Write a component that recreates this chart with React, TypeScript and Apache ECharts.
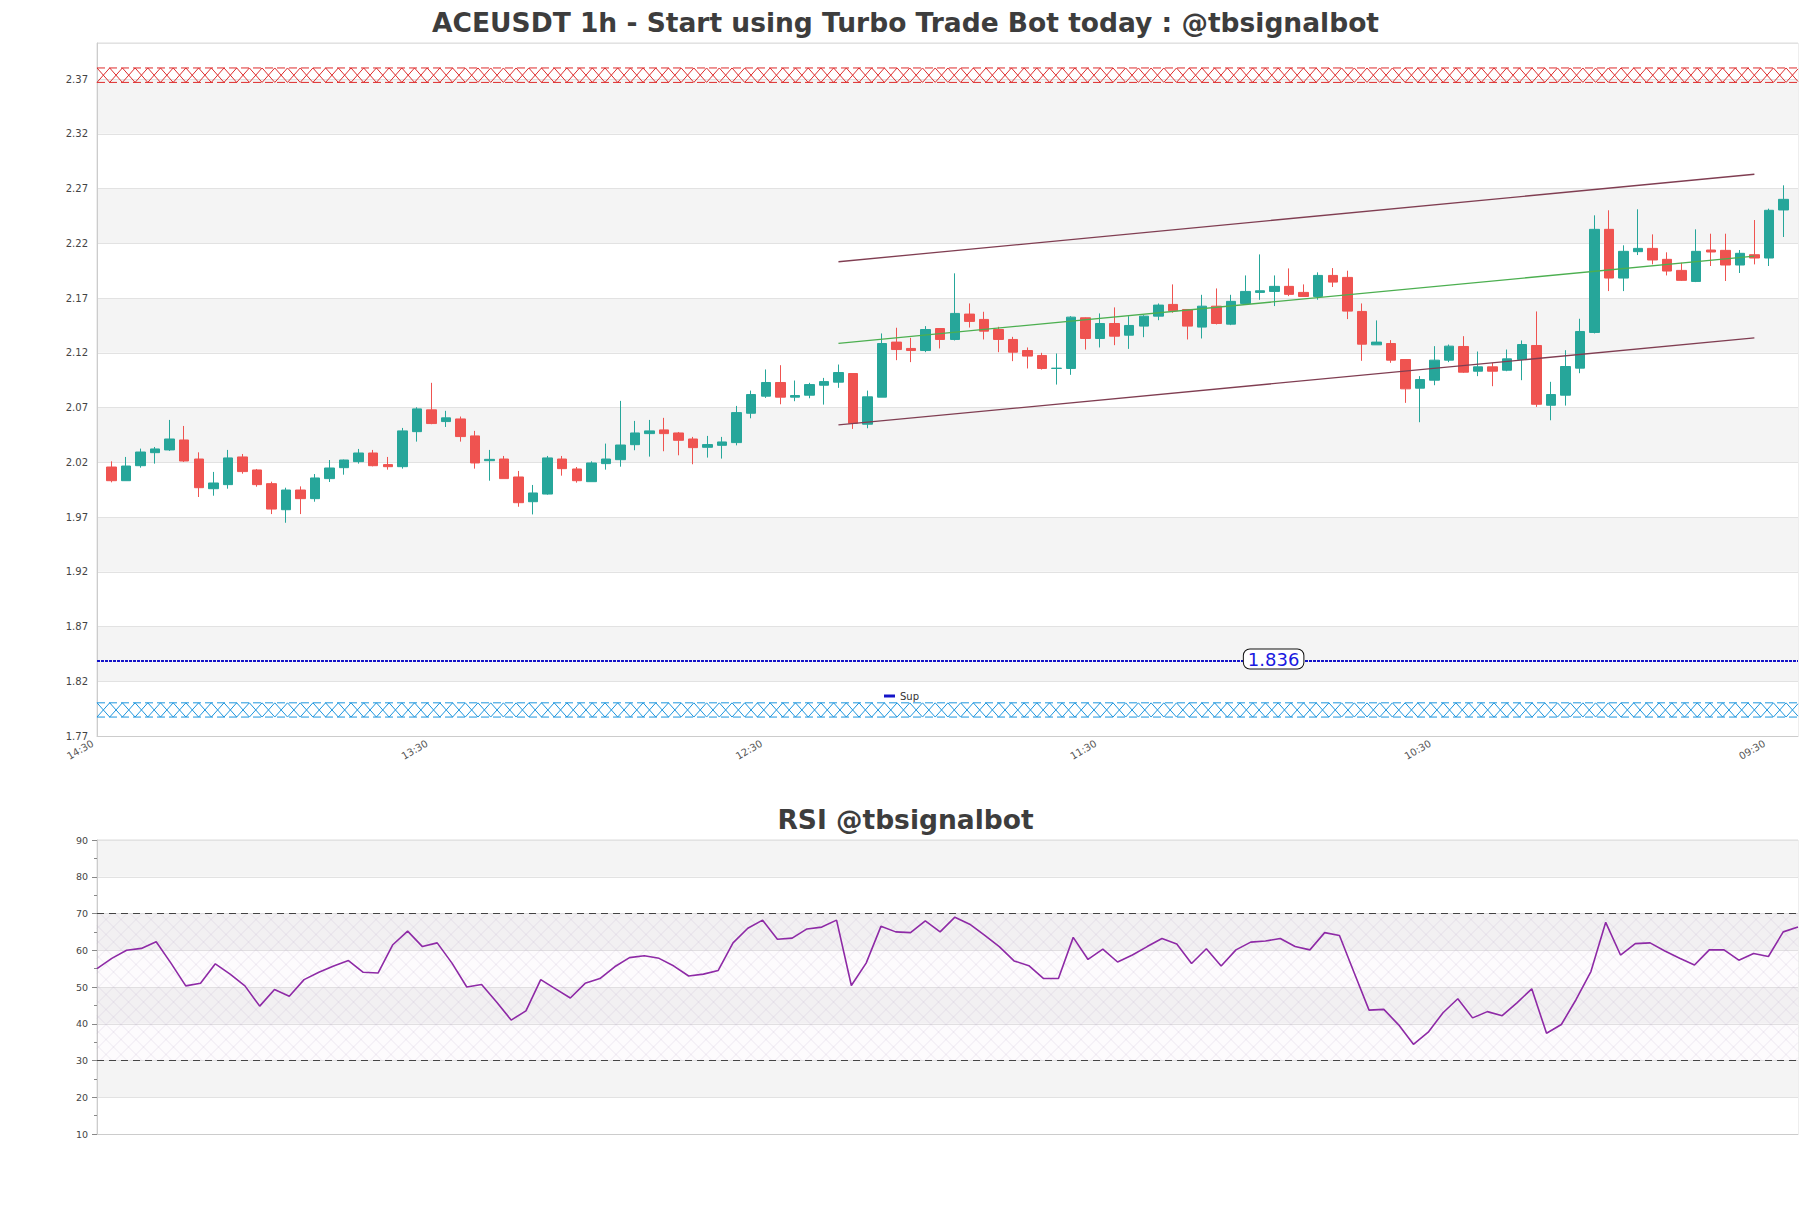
import React, { useEffect, useRef } from "react";
import * as echarts from "echarts";

const TITLE = "ACEUSDT 1h - Start using Turbo Trade Bot today : @tbsignalbot";
const RSI_TITLE = "RSI @tbsignalbot";
const TIME_LABELS = ["14:30", "13:30", "12:30", "11:30", "10:30", "09:30"];
const LABEL_STEP = 23;
const SLOT_COUNT = 118; // candles occupy slots 1..116

const OPEN = [
  2.0157, 2.0032, 2.0169, 2.0288, 2.0313, 2.0404, 2.023, 1.9959, 1.9996, 2.0249,
  2.013, 2.0005, 1.9767, 1.9947, 1.9868, 2.0051, 2.0151, 2.0206, 2.0285, 2.0179,
  2.016, 2.048, 2.0679, 2.0572, 2.0596, 2.0441, 2.0215, 2.023, 2.0066, 1.984,
  1.991, 2.023, 2.0139, 2.0023, 2.0188, 2.0224, 2.0361, 2.0462, 2.0496, 2.0468,
  2.0413, 2.0337, 2.0355, 2.038, 2.0648, 2.0804, 2.0929, 2.0795, 2.0813, 2.0904,
  2.0932, 2.1011, 2.0548, 2.0795, 2.1298, 2.124, 2.1221, 2.1422, 2.1322, 2.1554,
  2.1505, 2.1413, 2.1322, 2.1221, 2.1176, 2.1057, 2.1057, 2.152, 2.1331, 2.1468,
  2.1361, 2.1444, 2.1535, 2.1642, 2.1596, 2.1435, 2.1626, 2.1462, 2.1651, 2.1752,
  2.1761, 2.1807, 2.1752, 2.1715, 2.1907, 2.1889, 2.1578, 2.1273, 2.1285, 2.1139,
  2.0877, 2.095, 2.1133, 2.1258, 2.1032, 2.1072, 2.1041, 2.1139, 2.1267, 2.0721,
  2.0813, 2.106, 2.1386, 2.2328, 2.1883, 2.2124, 2.2154, 2.2054, 2.1953, 2.1852,
  2.2139, 2.2136, 2.2002, 2.2096, 2.2066, 2.2505,
];
const CLOSE = [
  2.0032, 2.0166, 2.0294, 2.0322, 2.0413, 2.0212, 1.9968, 2.0011, 2.024, 2.0115,
  1.9996, 1.9773, 1.9947, 1.9868, 2.0057, 2.0148, 2.0221, 2.0285, 2.0169, 2.016,
  2.0487, 2.0688, 2.0554, 2.0606, 2.0435, 2.0194, 2.0227, 2.0051, 1.9831, 1.992,
  2.024, 2.0142, 2.0032, 2.0194, 2.023, 2.0358, 2.0468, 2.0487, 2.0462, 2.0401,
  2.0334, 2.0362, 2.0386, 2.0654, 2.0819, 2.0929, 2.0795, 2.081, 2.091, 2.0937,
  2.102, 2.0557, 2.0798, 2.1285, 2.123, 2.1221, 2.1413, 2.1322, 2.156, 2.1487,
  2.1398, 2.1322, 2.1206, 2.117, 2.1057, 2.106, 2.1526, 2.1331, 2.1468, 2.1352,
  2.145, 2.1535, 2.1636, 2.1584, 2.1444, 2.1626, 2.1468, 2.167, 2.1761, 2.1767,
  2.1807, 2.1734, 2.1715, 2.1907, 2.1846, 2.1581, 2.1279, 2.1298, 2.1133, 2.0871,
  2.0956, 2.1133, 2.1261, 2.1023, 2.1072, 2.1032, 2.1145, 2.1276, 2.073, 2.0819,
  2.1075, 2.1395, 2.2328, 2.1883, 2.2127, 2.2154, 2.2048, 2.1947, 2.1862, 2.2127,
  2.2121, 2.2002, 2.2109, 2.2066, 2.2502, 2.2602,
];
const LOW = [
  2.0017, 2.0032, 2.0151, 2.0188, 2.0304, 2.0203, 1.9883, 1.9895, 1.9959, 2.0096,
  1.9977, 1.9727, 1.9648, 1.9727, 1.984, 2.002, 2.0087, 2.0188, 2.0163, 2.0133,
  2.0142, 2.0389, 2.0548, 2.0523, 2.0389, 2.0142, 2.0032, 2.0051, 1.9794, 1.9724,
  1.9904, 2.0078, 2.0014, 2.0023, 2.0133, 2.016, 2.031, 2.0252, 2.0301, 2.0264,
  2.0182, 2.0243, 2.0234, 2.0355, 2.0602, 2.0788, 2.073, 2.0758, 2.0785, 2.0727,
  2.088, 2.0505, 2.0511, 2.0795, 2.1133, 2.1115, 2.1206, 2.124, 2.1313, 2.1431,
  2.1322, 2.1206, 2.1124, 2.1057, 2.1047, 2.091, 2.0999, 2.123, 2.1249, 2.127,
  2.1236, 2.1343, 2.1498, 2.1566, 2.1322, 2.1331, 2.1459, 2.1453, 2.1642, 2.1684,
  2.1627, 2.1718, 2.1715, 2.1685, 2.1801, 2.1508, 2.1127, 2.1273, 2.1109, 2.0743,
  2.0566, 2.0904, 2.1115, 2.1017, 2.0987, 2.0895, 2.1032, 2.095, 2.0706, 2.0584,
  2.0718, 2.1014, 2.1377, 2.1764, 2.1764, 2.2093, 2.2008, 2.1907, 2.1856, 2.1846,
  2.1993, 2.1856, 2.1929, 2.2008, 2.1993, 2.2258,
];
const HIGH = [
  2.0209, 2.0249, 2.0325, 2.034, 2.0587, 2.0532, 2.0291, 2.0112, 2.0313, 2.0276,
  2.0139, 2.0023, 1.9968, 1.998, 2.0093, 2.0221, 2.0225, 2.0322, 2.0313, 2.0249,
  2.0514, 2.0703, 2.0926, 2.067, 2.0618, 2.0487, 2.0313, 2.0258, 2.0121, 1.9993,
  2.0258, 2.0258, 2.0157, 2.0209, 2.0371, 2.0761, 2.0578, 2.0587, 2.0606, 2.0477,
  2.0432, 2.0441, 2.0432, 2.0715, 2.0855, 2.1048, 2.1087, 2.0947, 2.0926, 2.0971,
  2.1093, 2.1011, 2.0855, 2.1377, 2.1429, 2.1337, 2.1444, 2.1425, 2.1926, 2.1651,
  2.1575, 2.1438, 2.1346, 2.1249, 2.12, 2.1194, 2.1535, 2.1523, 2.156, 2.1615,
  2.1535, 2.1544, 2.1651, 2.1825, 2.1599, 2.173, 2.1788, 2.173, 2.1907, 2.2099,
  2.1907, 2.1971, 2.1825, 2.1935, 2.1974, 2.195, 2.1651, 2.1496, 2.1316, 2.1142,
  2.0987, 2.1261, 2.1276, 2.1352, 2.1212, 2.1109, 2.123, 2.1313, 2.1578, 2.0935,
  2.1224, 2.1511, 2.2456, 2.2502, 2.2182, 2.2511, 2.2282, 2.2118, 2.2023, 2.2328,
  2.2288, 2.2288, 2.2139, 2.2413, 2.2517, 2.273,
];

const RSI = [
  55, 57.8, 60, 60.5, 62.3, 56.5, 50.3, 51, 56.3, 53.5,
  50.3, 44.8, 49.3, 47.5, 52, 54, 55.7, 57.2, 54, 53.8,
  61.5, 65.2, 61, 62, 56.5, 50, 50.7, 46, 41, 43.5,
  52, 49.5, 47, 51, 52.3, 55.5, 58, 58.5, 57.8, 55.7,
  53, 53.5, 54.5, 62, 66, 68.2, 63, 63.3, 65.8, 66.3,
  68.2, 50.4, 56.5, 66.5, 65,
  64.8, 68.0, 65.0, 69.0, 67.1, 64.1, 61.0, 57.1, 55.8, 52.3,
  52.3, 63.5, 57.5, 60.3, 56.8, 58.7, 61.0, 63.2, 61.7, 56.4,
  60.4, 55.7, 60.1, 62.2, 62.5, 63.2, 61.0, 60.1, 64.8, 64.0,
  53.8, 43.7, 43.9, 39.7, 34.4, 37.7, 43.0, 46.8, 41.6, 43.3,
  42.2, 45.7, 49.5, 37.4, 39.8, 46.6, 54.2, 67.6, 58.7, 61.8,
  62.0, 59.8, 57.8, 56.0, 60.1, 60.1, 57.3, 59.1, 58.3, 65.0,
  66.3,
];

const Y_MIN = 1.77;
const Y_MAX = 2.403;
const Y_STEP = 0.05;
const RSI_MIN = 10;
const RSI_MAX = 90;
const RSI_STEP = 10;
const RSI_BOUNDS = [30, 70];

const SUPPORT_NAME = "Sup";
const SUPPORT_LEVEL = 1.8385;
const SUPPORT_LABEL = "1.836";
const SUPPORT_LABEL_SLOT = 81;
const RESIST_ZONE = [2.367, 2.3802];
const SUPPORT_ZONE = [1.7873, 1.8003];

const CHANNEL_X = [51, 114];
const CHANNEL_UPPER = [2.2032, 2.2831];
const CHANNEL_MIDDLE = [2.1287, 2.2084];
const CHANNEL_LOWER = [2.0541, 2.1337];

const FONT = "DejaVu Sans";

function hatchBand(color: string) {
  return (params: any, api: any) => {
    const lo = api.value(1);
    const hi = api.value(2);
    const a = api.coord([0, hi]);
    const b = api.coord([SLOT_COUNT - 1, lo]);
    const x0 = a[0], y0 = a[1], x1 = b[0], y1 = b[1];
    const step = 12.7;
    const zigA: number[][] = [];
    const zigB: number[][] = [];
    const n = Math.floor((x1 - x0) / step);
    for (let k = 0; k <= n; k++) {
      const x = x0 + k * step;
      zigA.push([x, k % 2 === 0 ? y0 : y1]);
      zigB.push([x, k % 2 === 0 ? y1 : y0]);
    }
    const frac = (x1 - x0) / step - n;
    if (frac > 0.001) {
      const ya = n % 2 === 0 ? y0 : y1;
      const yb = n % 2 === 0 ? y1 : y0;
      zigA.push([x1, ya + (yb - ya) * frac]);
      zigB.push([x1, yb + (ya - yb) * frac]);
    }
    const stroke = { stroke: color, lineWidth: 1, fill: null };
    return {
      type: "group",
      silent: true,
      children: [
        { type: "polyline", shape: { points: zigA }, style: stroke },
        { type: "polyline", shape: { points: zigB }, style: stroke },
        { type: "line", shape: { x1: x0, y1: y0, x2: x1, y2: y0 }, style: { ...stroke, lineDash: [8, 4] } },
        { type: "line", shape: { x1: x0, y1: y1, x2: x1, y2: y1 }, style: { ...stroke, lineDash: [8, 4] } },
      ],
    };
  };
}

function rsiHatch(params: any, api: any) {
  const lo = api.value(1);
  const hi = api.value(2);
  const a = api.coord([0, hi]);
  const b = api.coord([RSI.length - 1, lo]);
  const x0 = a[0], y0 = a[1], x1 = b[0], y1 = b[1];
  const s = 15;
  const children: any[] = [
    { type: "rect", shape: { x: x0, y: y0, width: x1 - x0, height: y1 - y0 }, style: { fill: "rgba(210,180,225,0.05)" } },
  ];
  const st = { stroke: "rgba(180,165,195,0.38)", lineWidth: 0.6, fill: null };
  for (let c = x0 - y1; c <= x1 - y0; c += s) {
    const ya = Math.max(y0, x0 - c);
    const yb = Math.min(y1, x1 - c);
    if (yb > ya) children.push({ type: "line", shape: { x1: ya + c, y1: ya, x2: yb + c, y2: yb }, style: st });
  }
  for (let c = x0 + y0; c <= x1 + y1; c += s) {
    const ya = Math.max(y0, c - x1);
    const yb = Math.min(y1, c - x0);
    if (yb > ya) children.push({ type: "line", shape: { x1: c - ya, y1: ya, x2: c - yb, y2: yb }, style: st });
  }
  return { type: "group", silent: true, children };
}

export default function App() {
  const ref = useRef<HTMLDivElement>(null);

  useEffect(() => {
    if (!ref.current) return;
    const chart = echarts.init(ref.current, null, { renderer: "svg" });

    const slots = Array.from({ length: SLOT_COUNT }, (_, i) => String(i));
    const rsiSlots = RSI.map((_, i) => String(i));
    const candles = OPEN.map((o, i) => [i + 1, o, CLOSE[i], LOW[i], HIGH[i]]);
    const channel = (vals: number[]) => CHANNEL_X.map((x, i) => [x, vals[i]]);
    const titleStyle = { fontFamily: FONT, fontSize: 26.5, fontWeight: "bold", color: "#3d3d3d" };

    const option: any = {
      animation: false,
      backgroundColor: "#ffffff",
      title: [
        { text: TITLE, left: "center", top: 4, textStyle: titleStyle },
        { text: RSI_TITLE, left: "center", top: 801, textStyle: titleStyle },
      ],
      legend: {
        data: [SUPPORT_NAME],
        left: 879,
        top: 686,
        icon: "rect",
        itemWidth: 11,
        itemHeight: 3,
        itemGap: 6,
        textStyle: { fontFamily: FONT, fontSize: 10, color: "#333" },
      },
      grid: [
        { left: 97, top: 43, width: 1701, height: 693, show: true, borderColor: "#dddddd", borderWidth: 1, backgroundColor: "transparent" },
        { left: 97, top: 840, width: 1701, height: 294, show: true, borderColor: "#dddddd", borderWidth: 1, backgroundColor: "transparent" },
      ],
      xAxis: [
        {
          gridIndex: 0,
          type: "category",
          data: slots,
          boundaryGap: false,
          axisLine: { show: true, lineStyle: { color: "#cccccc" } },
          axisTick: { show: false },
          splitLine: { show: false },
          axisLabel: {
            interval: LABEL_STEP - 1,
            rotate: 30,
            margin: 4,
            padding: [0, 5, 0, 0],
            color: "#555",
            fontFamily: FONT,
            fontSize: 10,
            formatter: (v: string, i: number) => (i % LABEL_STEP === 0 ? TIME_LABELS[i / LABEL_STEP] || "" : ""),
          },
        },
        {
          gridIndex: 1,
          type: "category",
          data: rsiSlots,
          boundaryGap: false,
          axisLine: { show: true, lineStyle: { color: "#cccccc" } },
          axisTick: { show: false },
          axisLabel: { show: false },
          splitLine: { show: false },
        },
      ],
      yAxis: [
        {
          gridIndex: 0,
          type: "value",
          min: Y_MIN,
          max: Y_MAX,
          interval: Y_STEP,
          axisLine: { show: true, lineStyle: { color: "#cccccc" } },
          axisTick: { show: false },
          axisLabel: {
            color: "#444",
            fontFamily: FONT,
            fontSize: 10,
            margin: 9,
            formatter: (v: number) => (v > Y_MAX - 0.01 ? "" : v.toFixed(2)),
          },
          splitLine: { show: true, lineStyle: { color: "#e2e2e2" } },
          splitArea: { show: true, areaStyle: { color: ["#ffffff", "#f4f4f4"] } },
        },
        {
          gridIndex: 1,
          type: "value",
          min: RSI_MIN,
          max: RSI_MAX,
          interval: RSI_STEP,
          axisLine: { show: true, lineStyle: { color: "#cccccc" } },
          axisTick: { show: true, length: 5, lineStyle: { color: "#888" } },
          minorTick: { show: true, splitNumber: 2, length: 3, lineStyle: { color: "#888" } },
          axisLabel: { color: "#444", fontFamily: FONT, fontSize: 9.5, margin: 9 },
          splitLine: { show: true, lineStyle: { color: "#e2e2e2" } },
          splitArea: { show: true, areaStyle: { color: ["#ffffff", "#f4f4f4"] } },
        },
      ],
      series: [
        {
          type: "custom",
          name: "resistZone",
          xAxisIndex: 0,
          yAxisIndex: 0,
          silent: true,
          z: 1,
          renderItem: hatchBand("rgb(222,45,45)"),
          encode: { x: 0, y: [1, 2] },
          data: [[0, RESIST_ZONE[0], RESIST_ZONE[1]]],
        },
        {
          type: "custom",
          name: "supportZone",
          xAxisIndex: 0,
          yAxisIndex: 0,
          silent: true,
          z: 1,
          renderItem: hatchBand("rgb(30,150,222)"),
          encode: { x: 0, y: [1, 2] },
          data: [[0, SUPPORT_ZONE[0], SUPPORT_ZONE[1]]],
        },
        {
          type: "candlestick",
          name: "price",
          xAxisIndex: 0,
          yAxisIndex: 0,
          barWidth: 10,
          encode: { x: 0, y: [1, 2, 3, 4] },
          data: candles,
          itemStyle: {
            color: "#26a69a",
            color0: "#ef5350",
            borderColor: "#26a69a",
            borderColor0: "#ef5350",
            borderWidth: 1,
          },
          z: 3,
        },
        {
          type: "line",
          name: "upper",
          xAxisIndex: 0,
          yAxisIndex: 0,
          symbol: "none",
          data: channel(CHANNEL_UPPER),
          lineStyle: { color: "rgb(128,62,82)", width: 1.3 },
          z: 4,
        },
        {
          type: "line",
          name: "middle",
          xAxisIndex: 0,
          yAxisIndex: 0,
          symbol: "none",
          data: channel(CHANNEL_MIDDLE),
          lineStyle: { color: "rgb(76,175,80)", width: 1.3 },
          z: 4,
        },
        {
          type: "line",
          name: "lower",
          xAxisIndex: 0,
          yAxisIndex: 0,
          symbol: "none",
          data: channel(CHANNEL_LOWER),
          lineStyle: { color: "rgb(128,62,82)", width: 1.3 },
          z: 4,
        },
        {
          type: "line",
          name: SUPPORT_NAME,
          xAxisIndex: 0,
          yAxisIndex: 0,
          symbol: "none",
          color: "#1414c8",
          data: [[0, SUPPORT_LEVEL], [SLOT_COUNT - 1, SUPPORT_LEVEL]],
          lineStyle: { color: "#1414c8", width: 2.2, type: [3, 1] },
          z: 4,
          markPoint: {
            z: 20,
            symbol: "circle",
            symbolSize: 1,
            itemStyle: { color: "rgba(0,0,0,0)" },
            silent: true,
            data: [
              {
                coord: [SUPPORT_LABEL_SLOT, SUPPORT_LEVEL],
                label: {
                  show: true,
                  position: "inside",
                  offset: [-1, -2],
                  formatter: SUPPORT_LABEL,
                  color: "#1a1ae0",
                  fontFamily: FONT,
                  fontSize: 18,
                  lineHeight: 18,
                  backgroundColor: "#ffffff",
                  borderColor: "#111",
                  borderWidth: 1,
                  borderRadius: 6,
                  padding: [1, 4, 0, 4],
                },
              },
            ],
          },
        },
        {
          type: "custom",
          name: "rsiZone",
          xAxisIndex: 1,
          yAxisIndex: 1,
          silent: true,
          z: 1,
          renderItem: rsiHatch,
          encode: { x: 0, y: [1, 2] },
          data: [[0, RSI_BOUNDS[0], RSI_BOUNDS[1]]],
        },
        {
          type: "line",
          name: "RSI",
          xAxisIndex: 1,
          yAxisIndex: 1,
          symbol: "none",
          data: RSI,
          lineStyle: { color: "#8e2aa6", width: 1.6 },
          z: 4,
          markLine: {
            silent: true,
            symbol: ["none", "none"],
            label: { show: false },
            lineStyle: { color: "#444", width: 1.2, type: [7, 5] },
            data: RSI_BOUNDS.map((v) => ({ yAxis: v })),
          },
        },
      ],
    };

    chart.setOption(option);
    return () => chart.dispose();
  }, []);

  return (
    <div
      ref={ref}
      style={{ position: "absolute", left: 0, top: 0, width: 1811, height: 1208, background: "#fff" }}
    />
  );
}
